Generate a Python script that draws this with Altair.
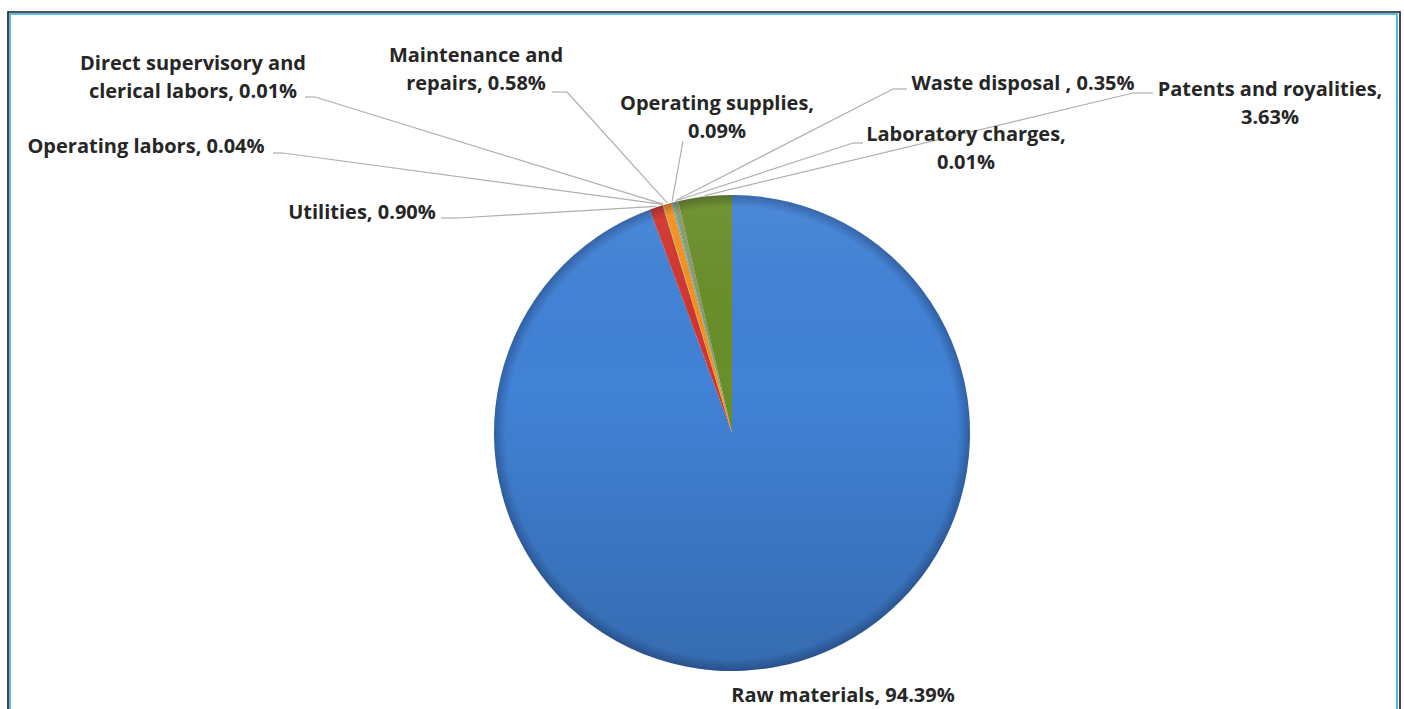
import math
import altair as alt
import pandas as pd

# ---- data ----
categories = [
    "Raw materials", "Utilities", "Operating labors",
    "Direct supervisory and clerical labors", "Maintenance and repairs",
    "Operating supplies", "Waste disposal", "Laboratory charges",
    "Patents and royalities",
]
values = [94.39, 0.90, 0.04, 0.01, 0.58, 0.09, 0.35, 0.01, 3.63]
labels = [
    "Raw materials, 94.39%",
    "Utilities, 0.90%",
    "Operating labors, 0.04%",
    "Direct supervisory and\nclerical labors, 0.01%",
    "Maintenance and\nrepairs, 0.58%",
    "Operating supplies,\n0.09%",
    "Waste disposal , 0.35%",
    "Laboratory charges,\n0.01%",
    "Patents and royalities,\n3.63%",
]
colors = ["#4182d6", "#d2352e", "#8fb43e", "#8064a2", "#f5901e",
          "#4bacc6", "#8a9a6a", "#2c4d75", "#6a8e2a"]

# ---- layout (pixels) ----
W, H = 1404, 709
CX, CY, R = 732, 433, 238
# label anchor (center x, first-line baseline y)
label_x = [843, 362, 146, 193, 476, 717, 1023, 966, 1270]
label_y = [702, 219, 153, 70, 62, 110, 90, 141, 96]
# leader line: label-side end point and elbow point
lead_end = [None, (441, 218), (273, 153), (305, 97), (552, 92),
            (683, 141), (907, 89), (863, 143), (1153, 93)]
lead_elbow = [None, (458, 218), (283, 153), (315, 97), (567, 92),
              (683, 141), (893, 89), (853, 143), (1133, 93)]

df = pd.DataFrame({"category": categories, "value": values,
                   "idx": list(range(len(values))),
                   "label": labels, "lx": label_x, "ly": label_y})

total = sum(values)
segs = []
cum = 0.0
for i, v in enumerate(values):
    mid = (cum + v / 2) / total * 2 * math.pi
    cum += v
    if lead_end[i] is None:
        continue
    px = CX + (R + 1) * math.sin(mid)
    py = CY - (R + 1) * math.cos(mid)
    ex, ey = lead_end[i]
    bx, by = lead_elbow[i]
    segs.append({"x": ex, "y": ey, "x2": bx, "y2": by})
    segs.append({"x": bx, "y": by, "x2": px, "y2": py})
seg_df = pd.DataFrame(segs)

one = pd.DataFrame({"v": [1]})
FULL = 2 * math.pi

frame_dark = alt.Chart(one).mark_rect(
    fill="transparent", stroke="#1a1a1a", strokeWidth=1.6
).encode(x=alt.value(8), x2=alt.value(1400), y=alt.value(12), y2=alt.value(800))
frame_blue = alt.Chart(one).mark_rect(
    fill="transparent", stroke="#2aa6e0", strokeWidth=1.6
).encode(x=alt.value(10), x2=alt.value(1397), y=alt.value(14), y2=alt.value(800))

arcs = alt.Chart(df).mark_arc(radius=R).encode(
    theta=alt.Theta("value:Q", stack=True),
    color=alt.Color("category:N", scale=alt.Scale(domain=categories, range=colors), legend=None),
    order=alt.Order("idx:Q"),
    x=alt.value(CX), y=alt.value(CY),
)

shade = alt.Chart(one).mark_arc(
    radius=R, theta=0, theta2=FULL,
    fill=alt.LinearGradient(
        gradient="linear",
        stops=[alt.GradientStop(color="rgba(255,255,255,0.06)", offset=0),
               alt.GradientStop(color="rgba(0,0,0,0.00)", offset=0.4),
               alt.GradientStop(color="rgba(0,0,0,0.18)", offset=1)],
        x1=0, y1=0, x2=0, y2=1),
).encode(x=alt.value(CX), y=alt.value(CY))

rim = alt.Chart(one).mark_arc(
    radius=R, theta=0, theta2=FULL,
    fill=alt.RadialGradient(
        gradient="radial",
        stops=[alt.GradientStop(color="rgba(0,0,0,0)", offset=0),
               alt.GradientStop(color="rgba(0,0,0,0)", offset=0.95),
               alt.GradientStop(color="rgba(0,0,30,0.25)", offset=1)],
        x1=0.5, y1=0.5, r1=0, x2=0.5, y2=0.5, r2=0.5),
).encode(x=alt.value(CX), y=alt.value(CY))

lines = alt.Chart(seg_df).mark_rule(color="#b0b0b0", strokeWidth=1.2).encode(
    x=alt.X("x:Q", scale=None, axis=None),
    y=alt.Y("y:Q", scale=None, axis=None),
    x2="x2:Q", y2="y2:Q",
)

text = alt.Chart(df).mark_text(
    font="Open Sans", fontWeight="bold", fontSize=20, lineHeight=28,
    align="center", baseline="alphabetic", color="#262626", lineBreak="\n",
).encode(
    x=alt.X("lx:Q", scale=None, axis=None),
    y=alt.Y("ly:Q", scale=None, axis=None),
    text="label:N",
)

chart = alt.layer(frame_dark, frame_blue, arcs, shade, rim, lines, text).properties(
    width=W, height=H, padding=0, autosize="none", background="white"
).configure_view(stroke=None)

chart.save("out.html", embed_options={"renderer": "svg", "actions": False})
